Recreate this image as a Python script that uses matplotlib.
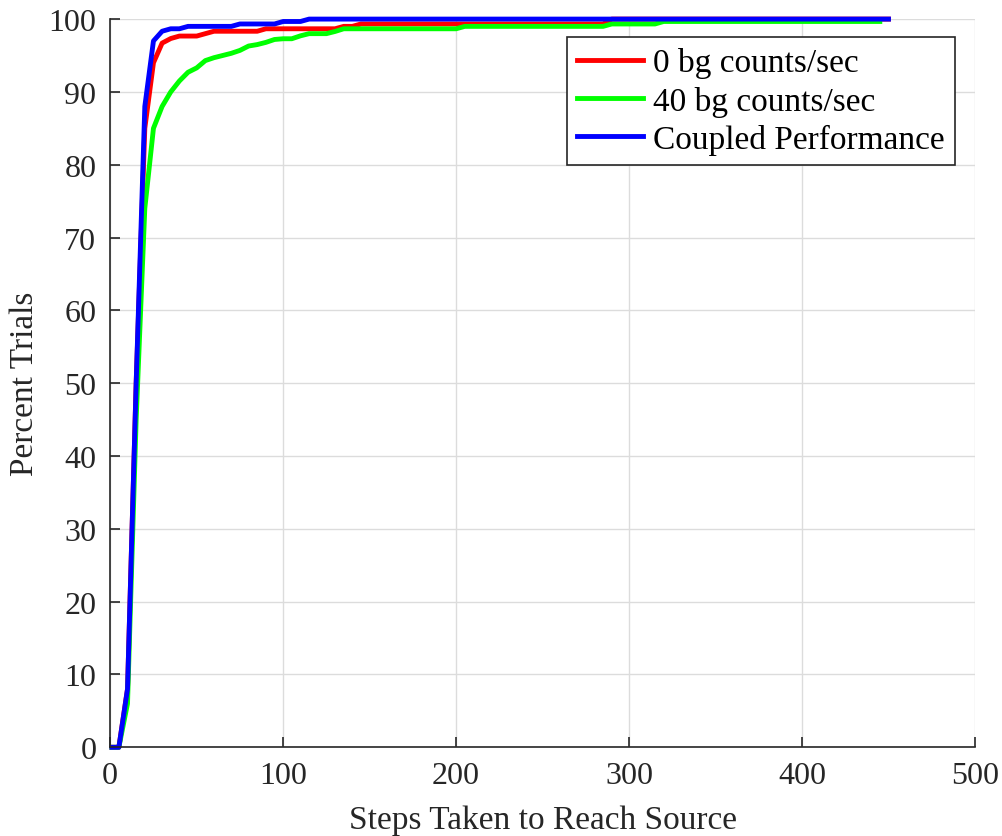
import matplotlib.pyplot as plt

# Breakpoints (steps, percent of trials)
steps_0bg = [1, 5, 10, 15, 20, 25, 30, 35, 40, 50, 55, 60, 85, 90, 130, 135,
             140, 145, 285, 290, 450]
pct_0bg = [0, 0, 8, 50, 85, 94, 96.7, 97.33, 97.67, 97.67, 98, 98.33, 98.33,
           98.67, 98.67, 99, 99, 99.33, 99.33, 100, 100]

steps_40bg = [1, 5, 10, 15, 20, 25, 30, 35, 40, 45, 50, 55, 60, 65, 70, 75,
              80, 85, 90, 95, 100, 105, 110, 115, 120, 125, 130, 135, 200,
              205, 285, 290, 315, 320, 445]
pct_40bg = [0, 0, 6, 45, 74, 85, 88, 90, 91.5, 92.7, 93.3, 94.3, 94.7, 95,
            95.3, 95.7, 96.3, 96.5, 96.8, 97.2, 97.3, 97.3, 97.7, 98, 98, 98,
            98.3, 98.67, 98.67, 99, 99, 99.33, 99.33, 99.67, 99.67]

steps_coupled = [1, 5, 10, 15, 20, 25, 30, 35, 40, 45, 70, 75, 95, 100, 110,
                 115, 450]
pct_coupled = [0, 0, 8, 50, 88, 97, 98.33, 98.67, 98.67, 99, 99, 99.33, 99.33,
               99.67, 99.67, 100, 100]

plt.rcParams['font.family'] = ['Liberation Serif', 'DejaVu Serif']

fig = plt.figure(figsize=(10.02, 8.37), dpi=100)
ax = fig.add_axes([0.110, 0.106, 0.863, 0.870])

ax.plot(steps_0bg, pct_0bg, color='#ff0000', lw=3.5, clip_on=False,
        label='0 bg counts/sec')
ax.plot(steps_40bg, pct_40bg, color='#00ff00', lw=3.5, clip_on=False,
        label='40 bg counts/sec')
ax.plot(steps_coupled, pct_coupled, color='#0000ff', lw=3.5, clip_on=False,
        label='Coupled Performance')

ax.set_xlim(0, 500)
ax.set_ylim(0, 100)
ax.set_xticks(range(0, 501, 100))
ax.set_yticks(range(0, 101, 10))
ax.grid(True, color='#dcdcdc', lw=1)
ax.set_axisbelow(True)

for side in ['top', 'right']:
    ax.spines[side].set_visible(False)
for side in ['left', 'bottom']:
    ax.spines[side].set_color('#262626')
    ax.spines[side].set_linewidth(1.2)
ax.tick_params(direction='in', length=7, width=1.2, colors='#262626',
               labelsize=23, labelcolor='#262626', pad=10)

ax.set_xlabel('Steps Taken to Reach Source', fontsize=24, color='#262626',
              labelpad=10)
ax.set_ylabel('Percent Trials', fontsize=24, color='#262626', labelpad=6)

leg = ax.legend(loc='upper right', bbox_to_anchor=(0.977, 0.975),
                fontsize=24, fancybox=False, framealpha=1, edgecolor='#262626',
                handlelength=2.0, borderpad=0.3, labelspacing=0.22,
                handletextpad=0.3, borderaxespad=0)
leg.get_frame().set_linewidth(1.2)

fig.savefig('out.png', dpi=100)
